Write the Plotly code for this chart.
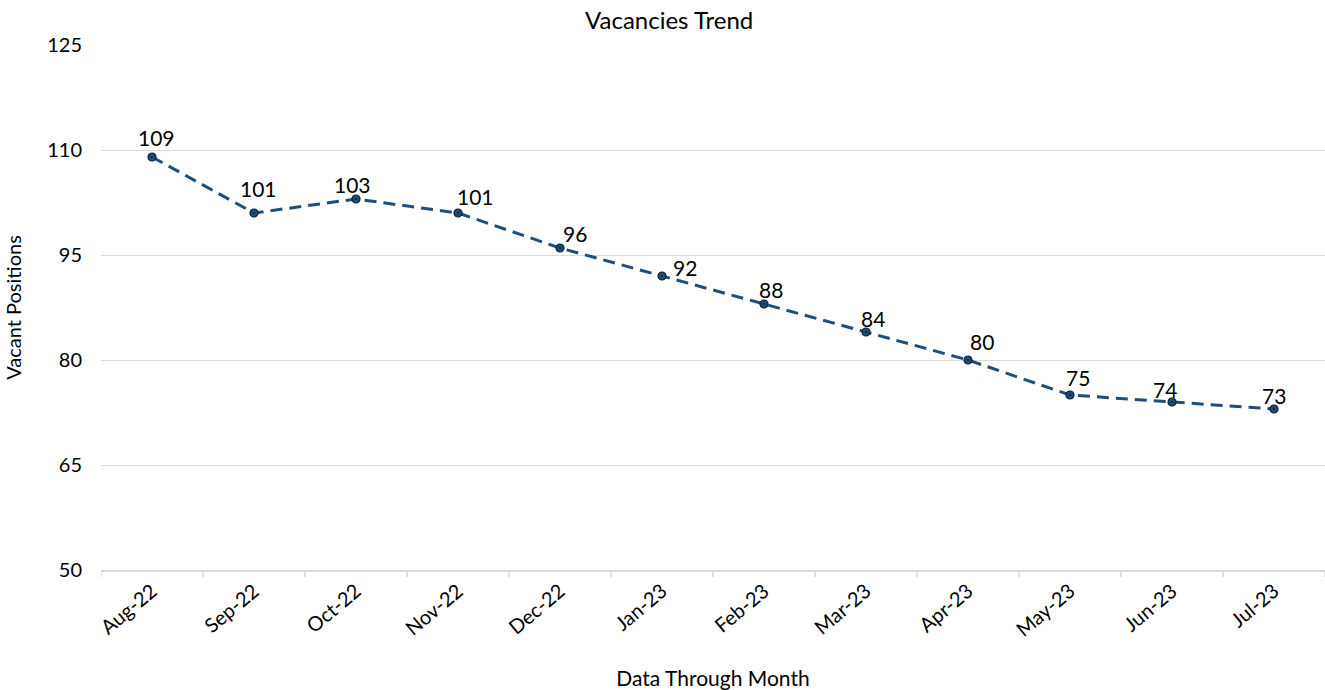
import plotly.graph_objects as go

months = ["Aug-22", "Sep-22", "Oct-22", "Nov-22", "Dec-22", "Jan-23",
          "Feb-23", "Mar-23", "Apr-23", "May-23", "Jun-23", "Jul-23"]
vacancies = [109, 101, 103, 101, 96, 92, 88, 84, 80, 75, 74, 73]
y_ticks = [50, 65, 80, 95, 110, 125]

# label offsets (pixels) relative to each point, mimicking the reference placement
label_dx = [4, 4, -4, 17, 15, 23, 7, 7, 14, 8, -7, 0]
label_dy = [20, 25, 15, 17, 15, 9, 15, 14, 19, 18, 13, 14]

font_family = "Lato, 'Open Sans', sans-serif"
line_color = "#1F4E79"

fig = go.Figure()
fig.add_trace(go.Scatter(
    x=list(range(len(months))), y=vacancies,
    mode="lines+markers",
    line=dict(color=line_color, width=3, dash="12px,7px"),
    marker=dict(symbol="circle-dot", size=8, color=line_color,
                line=dict(color="#0b2036", width=1.2)),
    showlegend=False,
))

for i, v in enumerate(vacancies):
    fig.add_annotation(x=i, y=v, text=str(v), showarrow=False,
                       xanchor="center", yanchor="middle",
                       xshift=label_dx[i], yshift=label_dy[i],
                       font=dict(size=21, color="black", family=font_family))

fig.update_layout(
    width=1325, height=690,
    margin=dict(l=101, r=0, t=45, b=120),
    paper_bgcolor="white", plot_bgcolor="white",
    title=dict(text="Vacancies Trend", x=0.505, xanchor="center", y=0.97, yanchor="middle",
               font=dict(size=24, color="black", family=font_family)),
    font=dict(family=font_family, color="black"),
    xaxis=dict(
        range=[-0.5, len(months) - 0.5],
        tickmode="array", tickvals=list(range(len(months))), ticktext=months,
        tickangle=-40, tickfont=dict(size=20),
        showgrid=False, showline=True, linecolor="#d9d9d9", linewidth=1.5,
        ticks="", zeroline=False,
        title=dict(text="Data Through Month", font=dict(size=21), standoff=32),
    ),
    yaxis=dict(
        range=[50, 125], tickvals=y_ticks, tickfont=dict(size=20),
        showgrid=True, gridcolor="#d9d9d9", gridwidth=1,
        zeroline=False, showline=False, ticks="", ticklen=0,
        ticklabelstandoff=18,
        title=dict(text="Vacant Positions", font=dict(size=20), standoff=20),
    ),
)

# category boundary tick marks below x axis
for i in range(len(months) + 1):
    fig.add_shape(type="line", xref="x", yref="paper",
                  x0=i - 0.5, x1=i - 0.5, y0=0, y1=-0.014,
                  line=dict(color="#d9d9d9", width=1.5))

fig.write_html("out.html", config={"displayModeBar": False},
               post_script="document.body.style.margin='0';document.body.style.overflow='hidden';")
